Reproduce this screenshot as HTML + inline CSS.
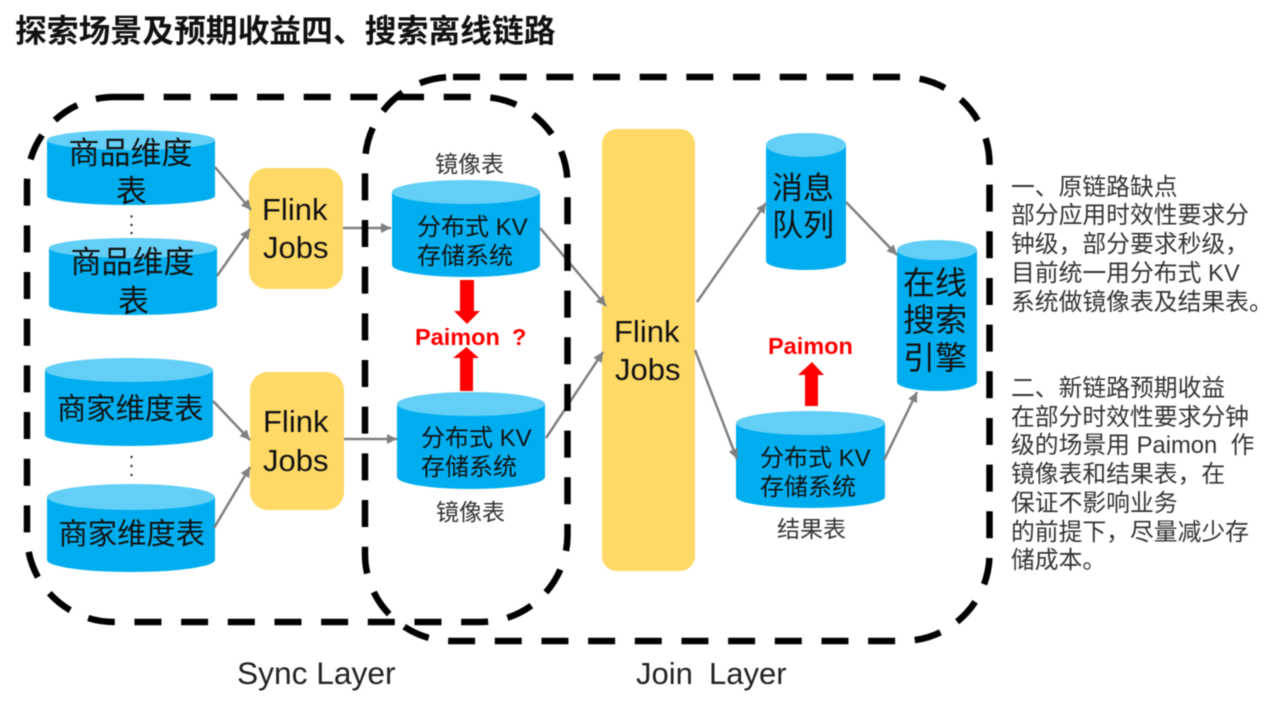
<!DOCTYPE html>
<html lang="zh"><head><meta charset="utf-8"><title>探索场景及预期收益</title>
<style>
html,body{margin:0;padding:0;background:#fff;width:1280px;height:720px;overflow:hidden}
svg{display:block;filter:blur(.4px)}
text{font-family:"Liberation Sans","Noto Sans CJK SC",sans-serif;fill:#111}
.b{fill:#00AEEF}.t{fill:#63CFF6}
.c{font-size:31px}.m{font-size:24px}.l{font-size:23px;fill:#333}.r{font-size:23.8px;fill:#333}
.f{font-size:31px}.p{font-size:23.5px;font-weight:bold;fill:#f00}
.g{stroke:#808080;stroke-width:2.5;fill:none}
.d{stroke:#000;stroke-width:6.5;fill:none;stroke-dasharray:27 19.67}
</style></head><body>
<svg width="1280" height="720" viewBox="0 0 1280 720" xmlns="http://www.w3.org/2000/svg">
<defs><marker id="a" markerUnits="userSpaceOnUse" markerWidth="12" markerHeight="12" refX="10" refY="6" orient="auto"><path d="M0 1L10 6L0 11z" fill="#808080"/></marker></defs>
<text x="15" y="42" style="font-size:31.8px;font-weight:bold">探索场景及预期收益四、搜索离线链路</text>

<!-- cylinders -->
<path class="b" d="M47 140V196A84 9 0 0 0 215 196V140z"/><ellipse class="t" cx="131" cy="140" rx="84" ry="10"/>
<path class="b" d="M49 248V305A84 10 0 0 0 217 305V248z"/><ellipse class="t" cx="133" cy="248" rx="84" ry="10"/>
<path class="b" d="M45 370V435A84 11 0 0 0 213 435V370z"/><ellipse class="t" cx="129" cy="370" rx="84" ry="12"/>
<path class="b" d="M47 497V560A84 12 0 0 0 215 560V497z"/><ellipse class="t" cx="131" cy="497" rx="84" ry="13"/>
<path class="b" d="M392 192V265A74 12 0 0 0 540 265V192z"/><ellipse class="t" cx="466" cy="192" rx="74" ry="12"/>
<path class="b" d="M397 404V477A74 12 0 0 0 545 477V404z"/><ellipse class="t" cx="471" cy="404" rx="74" ry="12"/>
<path class="b" d="M766 145V261A40 9 0 0 0 846 261V145z"/><ellipse class="t" cx="806" cy="145" rx="40" ry="12"/>
<path class="b" d="M897 250V382A40 9 0 0 0 977 382V250z"/><ellipse class="t" cx="937" cy="250" rx="40" ry="10"/>
<path class="b" d="M736 423V497A74.500 11 0 0 0 885 497V423z"/><ellipse class="t" cx="810.500" cy="423" rx="74.500" ry="12"/>

<!-- flink boxes -->
<rect x="249" y="168" width="94" height="121" rx="18" fill="#FFD966"/>
<rect x="250" y="372" width="94" height="138" rx="18" fill="#FFD966"/>
<rect x="602" y="129" width="93" height="442" rx="15" fill="#FFD966"/>

<!-- connectors -->
<g class="g">
<path d="M215 167L251 210" marker-end="url(#a)"/>
<path d="M217 276L250 229" marker-end="url(#a)"/>
<path d="M213 401L250 440" marker-end="url(#a)"/>
<path d="M214 528L250 467" marker-end="url(#a)"/>
<path d="M343 228L391 228" marker-end="url(#a)"/>
<path d="M344 439L397 439" marker-end="url(#a)"/>
<path d="M540 228L606 306" marker-end="url(#a)"/>
<path d="M546 438L603 352" marker-end="url(#a)"/>
<path d="M697 302L766 203" marker-end="url(#a)"/>
<path d="M846 202L897 255" marker-end="url(#a)"/>
<path d="M695 350L737 459" marker-end="url(#a)"/>
<path d="M884 460L917 392" marker-end="url(#a)"/>
</g>

<!-- dashed groups -->
<path class="d" d="M117 97H480.500A87 87 0 0 1 567.500 184V535A87 87 0 0 1 480.500 622H114A87 87 0 0 1 27 535V184A87 87 0 0 1 114 97H117"/>
<path class="d" d="M453 77H902.500A87 87 0 0 1 989.500 164V554A87 87 0 0 1 902.500 641H452A87 87 0 0 1 365 554V164A87 87 0 0 1 452 77H453"/>

<!-- red arrows -->
<path fill="#f00" d="M460 280H474V311H480L467 324L454 311H460z"/>
<path fill="#f00" d="M460 391H473V358H479L466.500 347L453 358H460z"/>
<path fill="#f00" d="M805 406H818V375H824L812 362L798 375H805z"/>

<!-- dots -->
<g fill="#333"><circle cx="131.500" cy="216.500" r="1.200"/><circle cx="131.500" cy="225" r="1.200"/><circle cx="131.500" cy="233" r="1.200"/><circle cx="131.500" cy="457" r="1.200"/><circle cx="131.500" cy="466" r="1.200"/><circle cx="131.500" cy="475" r="1.200"/></g>

<!-- labels in shapes -->
<text class="c" x="68.500" y="164">商品维度</text><text class="c" x="116" y="202">表</text>
<text class="c" x="70.500" y="273">商品维度</text><text class="c" x="118" y="312">表</text>
<text class="c" x="57" y="419" style="font-size:29.300px">商家维度表</text>
<text class="c" x="58.500" y="544" style="font-size:29.300px">商家维度表</text>
<text class="f" x="262" y="220">Flink</text><text class="f" x="263" y="258">Jobs</text>
<text class="f" x="263" y="432">Flink</text><text class="f" x="263" y="471">Jobs</text>
<text class="f" x="614" y="342">Flink</text><text class="f" x="615" y="380">Jobs</text>
<text class="m" x="417" y="235">分布式 KV</text><text class="m" x="417" y="264">存储系统</text>
<text class="m" x="421" y="446">分布式 KV</text><text class="m" x="421" y="475">存储系统</text>
<text class="m" x="760" y="466">分布式 KV</text><text class="m" x="760" y="495">存储系统</text>
<text class="l" x="435" y="172">镜像表</text><text class="l" x="436" y="520">镜像表</text><text class="l" x="777" y="537">结果表</text>
<text class="c" x="772" y="199">消息</text><text class="c" x="772" y="236">队列</text>
<text class="c" x="903" y="294" style="font-size:32px">在线</text><text class="c" x="903" y="331" style="font-size:32px">搜索</text><text class="c" x="903" y="369" style="font-size:32px">引擎</text>
<text class="p" x="415" y="345">Paimon</text><text class="p" x="512" y="345">?</text>
<text class="p" x="768" y="354">Paimon</text>

<!-- right panel -->
<text class="r" x="1011" y="195">一、原链路缺点</text>
<text class="r" x="1011" y="223">部分应用时效性要求分</text>
<text class="r" x="1011" y="252">钟级，部分要求秒级，</text>
<text class="r" x="1011" y="281">目前统一用分布式 KV</text>
<text class="r" x="1011" y="310">系统做镜像表及结果表。</text>
<text class="r" x="1011" y="396">二、新链路预期收益</text>
<text class="r" x="1011" y="425">在部分时效性要求分钟</text>
<text class="r" x="1011" y="453">级的场景用 Paimon&#160;&#160;作</text>
<text class="r" x="1011" y="482">镜像表和结果表，在</text>
<text class="r" x="1011" y="511">保证不影响业务</text>
<text class="r" x="1011" y="540">的前提下，尽量减少存</text>
<text class="r" x="1011" y="568">储成本。</text>

<text x="237" y="684" style="font-size:31.700px;fill:#222">Sync Layer</text>
<text x="636" y="684" style="font-size:31px;fill:#222">Join</text><text x="709" y="684" style="font-size:31px;fill:#222">Layer</text>
</svg>
</body></html>
